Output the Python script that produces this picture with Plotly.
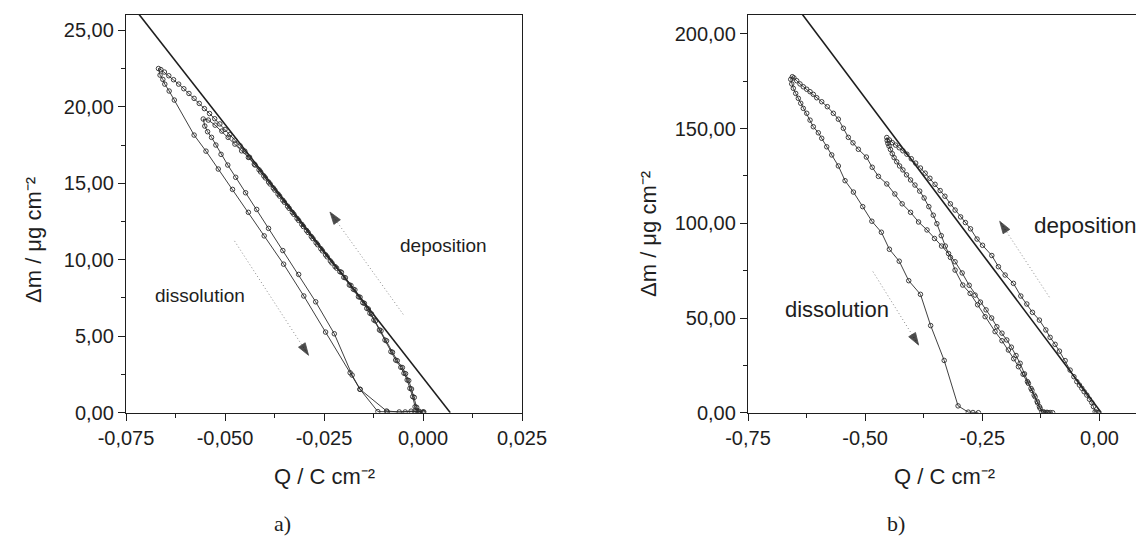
import plotly.graph_objects as go

# ---------------- panel a) data ----------------
a_line_q = [-0.0725, 0.0069]
a_line_m = [26.3, 0.0]

# cycle with the smaller loop
a_c1_q = [0.0002, -0.0010, -0.0016, -0.0022, -0.0029, -0.0036, -0.0044, -0.0052, -0.0065, -0.0077,
          -0.0092, -0.0106, -0.0120, -0.0130, -0.0138, -0.0148, -0.0159, -0.0172, -0.0182, -0.0196,
          -0.0206, -0.0218, -0.0230, -0.0242, -0.0254, -0.0266, -0.0278, -0.0290, -0.0302, -0.0314,
          -0.0326, -0.0338, -0.0350, -0.0362, -0.0374, -0.0386, -0.0398, -0.0410, -0.0424, -0.0441,
          -0.0458, -0.0475, -0.0492, -0.0508, -0.0525, -0.0542, -0.0555,
          -0.0551, -0.0544, -0.0534, -0.0523, -0.0510, -0.0493, -0.0473, -0.0448, -0.0420, -0.0390,
          -0.0354, -0.0314, -0.0271, -0.0224, -0.0179, -0.0159, -0.0092, -0.0060, -0.0030, -0.0010]
a_c1_m = [0.05, 0.10, 0.35, 1.00, 1.55, 2.10, 2.55, 2.95, 3.40, 3.95,
          4.70, 5.35, 6.00, 6.45, 6.78, 7.15, 7.55, 8.03, 8.32, 8.82,
          9.18, 9.45, 9.79, 10.19, 10.58, 10.98, 11.38, 11.78, 12.17, 12.57,
          12.97, 13.36, 13.76, 14.16, 14.55, 14.95, 15.35, 15.74, 16.19, 16.69,
          17.12, 17.56, 18.00, 18.41, 18.80, 19.13, 19.20,
          18.74, 18.37, 18.00, 17.50, 16.89, 16.19, 15.39, 14.38, 13.29, 12.05,
          10.60, 9.04, 7.25, 5.16, 2.46, 1.53, 0.11, 0.05, 0.10, 0.05]

# cycle with the larger loop
a_c2_q = [0.0000, -0.0015, -0.0020, -0.0026, -0.0033, -0.0040, -0.0048, -0.0056, -0.0069, -0.0081,
          -0.0096, -0.0110, -0.0124, -0.0134, -0.0142, -0.0152, -0.0163, -0.0176, -0.0186, -0.0200,
          -0.0210, -0.0222, -0.0234, -0.0246, -0.0258, -0.0270, -0.0282, -0.0294, -0.0306, -0.0318,
          -0.0330, -0.0342, -0.0354, -0.0366, -0.0378, -0.0390, -0.0402, -0.0414, -0.0426, -0.0438,
          -0.0450, -0.0462, -0.0475, -0.0488, -0.0500, -0.0513, -0.0526, -0.0539, -0.0552, -0.0565,
          -0.0578, -0.0591, -0.0604, -0.0617, -0.0630, -0.0642, -0.0653, -0.0662, -0.0668,
          -0.0664, -0.0657, -0.0652, -0.0641, -0.0628, -0.0578, -0.0548, -0.0517, -0.0481, -0.0441,
          -0.0401, -0.0352, -0.0301, -0.0246, -0.0184, -0.0159, -0.0114, -0.0090, -0.0045, -0.0020, 0.0000]
a_c2_m = [0.05, 0.10, 0.39, 1.05, 1.59, 2.14, 2.58, 2.97, 3.44, 3.99,
          4.75, 5.41, 6.06, 6.50, 6.82, 7.19, 7.58, 8.07, 8.35, 8.85,
          9.22, 9.55, 9.92, 10.32, 10.72, 11.11, 11.51, 11.91, 12.31, 12.70,
          13.10, 13.50, 13.89, 14.29, 14.69, 15.08, 15.48, 15.88, 16.25, 16.70,
          17.10, 17.45, 17.82, 18.18, 18.52, 18.88, 19.22, 19.56, 19.88, 20.22,
          20.55, 20.87, 21.18, 21.48, 21.77, 22.03, 22.27, 22.43, 22.50,
          22.07, 21.79, 21.48, 21.03, 20.44, 18.15, 17.10, 15.93, 14.60, 13.10,
          11.56, 9.71, 7.63, 5.27, 2.61, 1.53, 0.07, 0.05, 0.05, 0.10, 0.00]

a_xtick_vals = [-0.075, -0.050, -0.025, 0.000, 0.025]
a_xtick_text = ["-0,075", "-0,050", "-0,025", "0,000", "0,025"]
a_xminor = [-0.0625, -0.0375, -0.0125, 0.0125]
a_ytick_vals = [0, 5, 10, 15, 20, 25]
a_ytick_text = ["0,00", "5,00", "10,00", "15,00", "20,00", "25,00"]
a_yminor = [2.5, 7.5, 12.5, 17.5, 22.5]
a_xrange = [-0.075, 0.025]
a_yrange = [0, 26]

a_dep_arrow = {"tail": (-0.0050, 6.43), "head": (-0.0235, 13.12)}
a_dis_arrow = {"tail": (-0.0476, 11.23), "head": (-0.0289, 3.75)}
a_dep_text = (-0.0064, 10.94)
a_dis_text = (-0.0681, 7.66)

# ---------------- panel b) data ----------------
b_line_q = [-0.6345, 0.0040]
b_line_m = [210.5, 0.0]

b_c1_q = [-0.0020, -0.0055, -0.0092, -0.0128, -0.0163, -0.0213, -0.0269, -0.0327, -0.0376, -0.0427,
          -0.0483, -0.0545, -0.0626, -0.0732, -0.0854, -0.0946, -0.1053, -0.1144, -0.1281, -0.1430,
          -0.1550, -0.1678, -0.1836, -0.2013, -0.2156, -0.2297, -0.2495, -0.2612, -0.2752, -0.2861,
          -0.2963, -0.3080, -0.3181, -0.3298, -0.3399, -0.3508, -0.3618, -0.3719, -0.3820, -0.3922,
          -0.4015, -0.4109, -0.4194, -0.4273, -0.4350, -0.4421, -0.4483, -0.4538,
          -0.4530, -0.4514, -0.4491, -0.4460, -0.4421, -0.4382, -0.4327, -0.4265, -0.4194, -0.4117,
          -0.4031, -0.3937, -0.3836, -0.3742, -0.3641, -0.3547, -0.3469, -0.3376, -0.3290, -0.3180,
          -0.3081, -0.2917, -0.2760, -0.2600, -0.2440, -0.2227, -0.2080, -0.1943, -0.1830, -0.1729,
          -0.1630, -0.1537, -0.1460, -0.1394, -0.1330, -0.1281, -0.1196, -0.1120, -0.1053, -0.0999]
b_c1_m = [0.0, 0.2, 0.5, 3.2, 5.3, 7.1, 9.3, 11.1, 12.9, 14.6,
          16.4, 19.0, 22.5, 27.5, 32.5, 36.1, 39.8, 43.7, 48.9, 53.0,
          57.4, 61.6, 68.3, 72.7, 77.1, 83.0, 88.4, 91.7, 97.1, 100.4,
          103.4, 107.0, 110.3, 114.3, 117.3, 120.6, 123.8, 126.5, 129.2, 131.8,
          134.1, 136.5, 138.3, 139.9, 141.3, 142.6, 144.0, 145.3,
          143.7, 142.2, 140.8, 139.0, 136.8, 134.7, 132.5, 130.3, 128.2, 125.6,
          122.9, 120.2, 117.0, 113.4, 108.8, 104.3, 99.8, 93.5, 88.0, 82.0,
          75.3, 67.4, 63.0, 57.0, 50.7, 42.8, 38.0, 33.1, 28.5, 24.3,
          20.3, 16.4, 12.8, 9.3, 6.0, 3.2, 0.5, 0.2, 0.1, 0.0]

b_c2_q = [-0.1100, -0.1160, -0.1230, -0.1266, -0.1320, -0.1373, -0.1440, -0.1516, -0.1600, -0.1693,
          -0.1780, -0.1880, -0.1977, -0.2080, -0.2190, -0.2300, -0.2420, -0.2540, -0.2654, -0.2780,
          -0.2930, -0.3081, -0.3220, -0.3370, -0.3520, -0.3680, -0.3860, -0.4031, -0.4210, -0.4366,
          -0.4538, -0.4717, -0.4849, -0.4974, -0.5145, -0.5260, -0.5359, -0.5465, -0.5572, -0.5679,
          -0.5807, -0.5927, -0.6033, -0.6106, -0.6176, -0.6247, -0.6320, -0.6390, -0.6460, -0.6520,
          -0.6554,
          -0.6588, -0.6567, -0.6533, -0.6482, -0.6426, -0.6375, -0.6320, -0.6247, -0.6176, -0.6106,
          -0.5999, -0.5927, -0.5820, -0.5713, -0.5572, -0.5429, -0.5250, -0.5052, -0.4857, -0.4654,
          -0.4483, -0.4273, -0.4070, -0.3820, -0.3602, -0.3313, -0.3017, -0.2800, -0.2700, -0.2583]
b_c2_m = [0.0, 0.1, 0.3, 2.3, 5.2, 8.4, 11.8, 15.5, 20.5, 26.1,
          30.2, 34.6, 38.4, 42.0, 45.4, 50.0, 54.3, 58.4, 62.1, 67.3,
          73.8, 79.7, 84.0, 88.0, 92.0, 96.5, 100.7, 105.8, 110.3, 115.5,
          120.8, 124.8, 129.6, 135.0, 139.1, 142.5, 145.4, 150.2, 155.0, 158.1,
          161.6, 164.2, 166.3, 168.1, 169.5, 170.8, 172.1, 173.6, 175.3, 176.8,
          177.4,
          176.0, 173.6, 171.3, 168.6, 166.0, 163.4, 160.7, 158.1, 154.5, 151.0,
          147.8, 144.9, 140.4, 136.1, 130.3, 122.5, 116.5, 108.8, 101.1, 95.3,
          86.3, 80.0, 69.7, 62.5, 46.0, 27.6, 3.6, 0.3, 0.1, 0.0]

b_xtick_vals = [-0.75, -0.50, -0.25, 0.00]
b_xtick_text = ["-0,75", "-0,50", "-0,25", "0,00"]
b_xminor = [-0.625, -0.375, -0.125]
b_ytick_vals = [0, 50, 100, 150, 200]
b_ytick_text = ["0,00", "50,00", "100,00", "150,00", "200,00"]
b_yminor = [25, 75, 125, 175]
b_xrange = [-0.75, 0.078]
b_yrange = [0, 210]

b_dep_arrow = {"tail": (-0.1068, 61.0), "head": (-0.2129, 101.1)}
b_dis_arrow = {"tail": (-0.4834, 74.5), "head": (-0.3859, 35.7)}
b_dep_text = (-0.1440, 98.9)
b_dis_text = (-0.6744, 54.7)

x_title = "Q / C cm⁻²"
y_title = "Δm / μg cm⁻²"

# ---------------- figure ----------------
W, H = 1136, 536
FONT = "Liberation Sans, Arial, Helvetica, sans-serif"
INK = "#1e1e1e"

fig = go.Figure()

def add_panel(xa, ya, line_q, line_m, cycles):
    fig.add_trace(go.Scatter(x=line_q, y=line_m, mode="lines", xaxis=xa, yaxis=ya,
                             line=dict(color=INK, width=1.6), hoverinfo="skip"))
    for q, m in cycles:
        fig.add_trace(go.Scatter(x=q, y=m, mode="lines+markers", xaxis=xa, yaxis=ya,
                                 line=dict(color="#2a2a2a", width=0.9),
                                 marker=dict(symbol="circle-open", size=4.5, color="#2a2a2a",
                                             line=dict(width=0.9, color="#2a2a2a"))))

add_panel("x", "y", a_line_q, a_line_m, [(a_c1_q, a_c1_m), (a_c2_q, a_c2_m)])
add_panel("x2", "y2", b_line_q, b_line_m, [(b_c1_q, b_c1_m), (b_c2_q, b_c2_m)])


def add_arrow(xa, ya, arrow):
    (tx, ty), (hx, hy) = arrow["tail"], arrow["head"]
    # finely dotted grey shaft
    fig.add_trace(go.Scatter(x=[tx, hx], y=[ty, hy], mode="lines", xaxis=xa, yaxis=ya,
                             line=dict(color="#8a8a8a", width=1.0, dash="1px,2.5px"),
                             hoverinfo="skip"))
    # filled black head oriented along the shaft
    fig.add_trace(go.Scatter(x=[tx, hx], y=[ty, hy], mode="markers", xaxis=xa, yaxis=ya,
                             marker=dict(symbol="arrow", size=[0, 13], angleref="previous",
                                         color="#000000", line=dict(width=0.8, color="#000000")),
                             hoverinfo="skip"))

add_arrow("x", "y", a_dep_arrow)
add_arrow("x", "y", a_dis_arrow)
add_arrow("x2", "y2", b_dep_arrow)
add_arrow("x2", "y2", b_dis_arrow)

annotations = []

def add_text(xa, ya, pos, txt, size):
    annotations.append(dict(x=pos[0], y=pos[1], xref=xa, yref=ya, text=txt, showarrow=False,
                            xanchor="left", yanchor="middle",
                            font=dict(family=FONT, size=size, color=INK)))

add_text("x", "y", a_dep_text, "deposition", 19)
add_text("x", "y", a_dis_text, "dissolution", 19)
add_text("x2", "y2", b_dep_text, "deposition", 22.5)
add_text("x2", "y2", b_dis_text, "dissolution", 22)

def paper_text(px, py, txt, size, family=FONT, angle=0):
    annotations.append(dict(x=px / W, y=1 - py / H, xref="paper", yref="paper", text=txt,
                            showarrow=False, xanchor="center", yanchor="middle", textangle=angle,
                            font=dict(family=family, size=size, color=INK)))

paper_text(324, 476, x_title, 22)
paper_text(944, 476, x_title, 22)
paper_text(34, 240, y_title, 22, angle=-90)
paper_text(648, 234, y_title, 22, angle=-90)
paper_text(282, 523, "a)", 22, family="Liberation Serif, Times New Roman, serif")
paper_text(896, 523, "b)", 22, family="Liberation Serif, Times New Roman, serif")

ydom = [(H - 412.7) / H, (H - 15) / H]

def axis(domain, rng, vals, text, minor, anchor, mirror):
    return dict(domain=domain, range=rng, anchor=anchor, showline=True, linecolor=INK,
                linewidth=1.3, mirror=mirror, ticks="outside", ticklen=7, tickwidth=1.2,
                tickcolor=INK, tickmode="array", tickvals=vals, ticktext=text,
                tickfont=dict(family=FONT, size=20, color=INK), showgrid=False,
                zeroline=False, fixedrange=True, automargin=False,
                minor=dict(tickmode="array", tickvals=minor, ticklen=4, ticks="outside",
                           tickcolor=INK, tickwidth=1, showgrid=False))

fig.update_layout(
    template="none",
    width=W, height=H, margin=dict(l=0, r=0, t=0, b=0, pad=0, autoexpand=False),
    paper_bgcolor="white", plot_bgcolor="white", showlegend=False,
    xaxis=axis([126 / W, 522 / W], a_xrange, a_xtick_vals, a_xtick_text, a_xminor, "y", True),
    yaxis=axis(ydom, a_yrange, a_ytick_vals, a_ytick_text, a_yminor, "x", True),
    xaxis2=axis([748 / W, 1.0], b_xrange, b_xtick_vals, b_xtick_text, b_xminor, "y2", True),
    yaxis2=axis(ydom, b_yrange, b_ytick_vals, b_ytick_text, b_yminor, "x2", False),
    annotations=annotations,
)

fig.write_html("out.html")
